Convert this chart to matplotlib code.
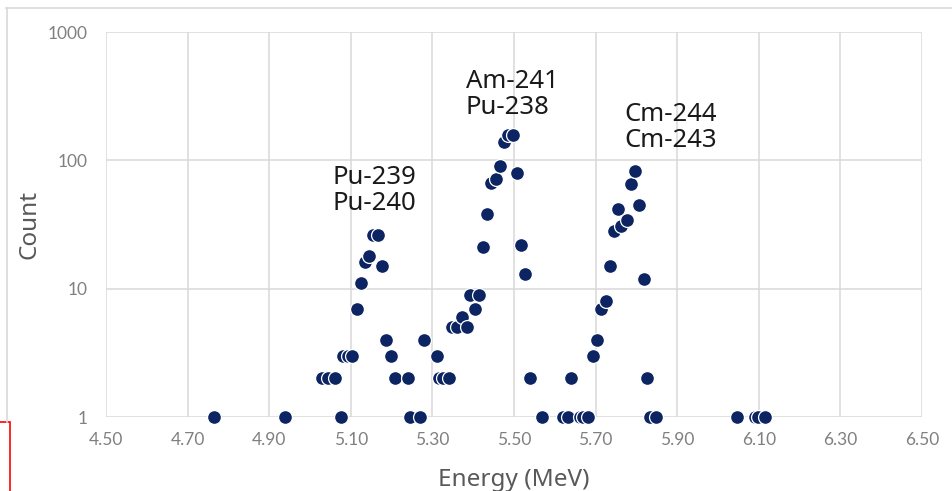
import matplotlib
matplotlib.use("Agg")
import matplotlib.pyplot as plt
from matplotlib.patches import Rectangle
from matplotlib.lines import Line2D
from matplotlib.ticker import FixedLocator, FixedFormatter, NullLocator

# ---- data ----
energy = [4.765, 4.939, 5.075, 5.245, 5.270,
          5.029, 5.045, 5.061, 5.080, 5.092, 5.104, 5.116, 5.125, 5.136, 5.145,
          5.155, 5.167, 5.176, 5.187, 5.198, 5.208, 5.239, 5.280, 5.311,
          5.315, 5.327, 5.341, 5.349, 5.360, 5.372, 5.384, 5.392, 5.404, 5.414,
          5.425, 5.435, 5.443, 5.455, 5.466, 5.476, 5.486, 5.497, 5.507, 5.517,
          5.527, 5.539, 5.569, 5.621, 5.633, 5.640, 5.662, 5.669, 5.681,
          5.693, 5.704, 5.713, 5.725, 5.735, 5.745, 5.755, 5.762, 5.778, 5.786,
          5.797, 5.806, 5.819, 5.825, 5.833, 5.848, 6.046, 6.091, 6.098, 6.115]
count = [1, 1, 1, 1, 1,
         2, 2, 2, 3, 3, 3, 7, 11, 16, 18,
         26, 26, 15, 4, 3, 2, 2, 4, 3,
         2, 2, 2, 5, 5, 6, 5, 9, 7, 9,
         21, 38, 66, 71, 91, 139, 157, 157, 79, 22,
         13, 2, 1, 1, 1, 2, 1, 1, 1,
         3, 4, 7, 8, 15, 28, 42, 31, 34, 65,
         82, 45, 12, 2, 1, 1, 1, 1, 1, 1]

xticks = [4.50, 4.70, 4.90, 5.10, 5.30, 5.50, 5.70, 5.90, 6.10, 6.30, 6.50]
yticks = [1, 10, 100, 1000]
labels = ["Pu-239\nPu-240", "Am-241\nPu-238", "Cm-244\nCm-243"]
label_x = [5.056, 5.382, 5.770]
label_y = [58, 325, 180]

fig = plt.figure(figsize=(9.53, 4.91), dpi=100)
ax = fig.add_axes([106/953, 1 - 417/491, (922-106)/953, (417-32)/491])

ax.set_yscale("log")
ax.set_xlim(4.50, 6.50)
ax.set_ylim(1, 1000)

grid_c = "#D9D9D9"
ax.xaxis.set_major_locator(FixedLocator(xticks))
ax.xaxis.set_major_formatter(FixedFormatter([f"{v:.2f}" for v in xticks]))
ax.yaxis.set_major_locator(FixedLocator(yticks))
ax.yaxis.set_major_formatter(FixedFormatter([str(v) for v in yticks]))
ax.yaxis.set_minor_locator(NullLocator())
ax.grid(True, color=grid_c, linewidth=1.1)
ax.set_axisbelow(True)
for s in ax.spines.values():
    s.set_visible(False)
ax.tick_params(axis="y", length=0, colors="#808080", labelsize=12.5, pad=13)
ax.tick_params(axis="x", length=0, colors="#808080", labelsize=12.5, pad=11)
for t in ax.get_xticklabels() + ax.get_yticklabels():
    t.set_fontfamily("Lato")

ax.scatter(energy, count, s=100, color="#0C2461", edgecolors="white",
           linewidths=0.9, zorder=3, clip_on=False)

for lab, lx, ly in zip(labels, label_x, label_y):
    ax.text(lx, ly, lab, ha="left", va="center", fontsize=18.5,
            family="Noto Sans", color="#1a1a1a", linespacing=1.05)

ax.set_xlabel("Energy (MeV)", fontsize=17.5, color="#595959", family="Noto Sans", labelpad=14)
ax.set_ylabel("Count", fontsize=17.5, color="#595959", family="Noto Sans")
ax.yaxis.set_label_coords((42 - 106) / 816, 0.5)

# outer frame lines and red box
fig.add_artist(Line2D([6/953, 1], [1 - 8/491, 1 - 8/491], color="#D9D9D9", lw=1.2, transform=fig.transFigure))
fig.add_artist(Line2D([7/953, 7/953], [1 - 8/491, 1 - 422/491], color="#D9D9D9", lw=1.2, transform=fig.transFigure))
fig.add_artist(Rectangle((-0.01, -0.01), 0.01 + 10/953, 0.01 + 69/491, fill=False,
                         edgecolor="red", lw=1.2, transform=fig.transFigure))

fig.savefig("out.png", dpi=100)
